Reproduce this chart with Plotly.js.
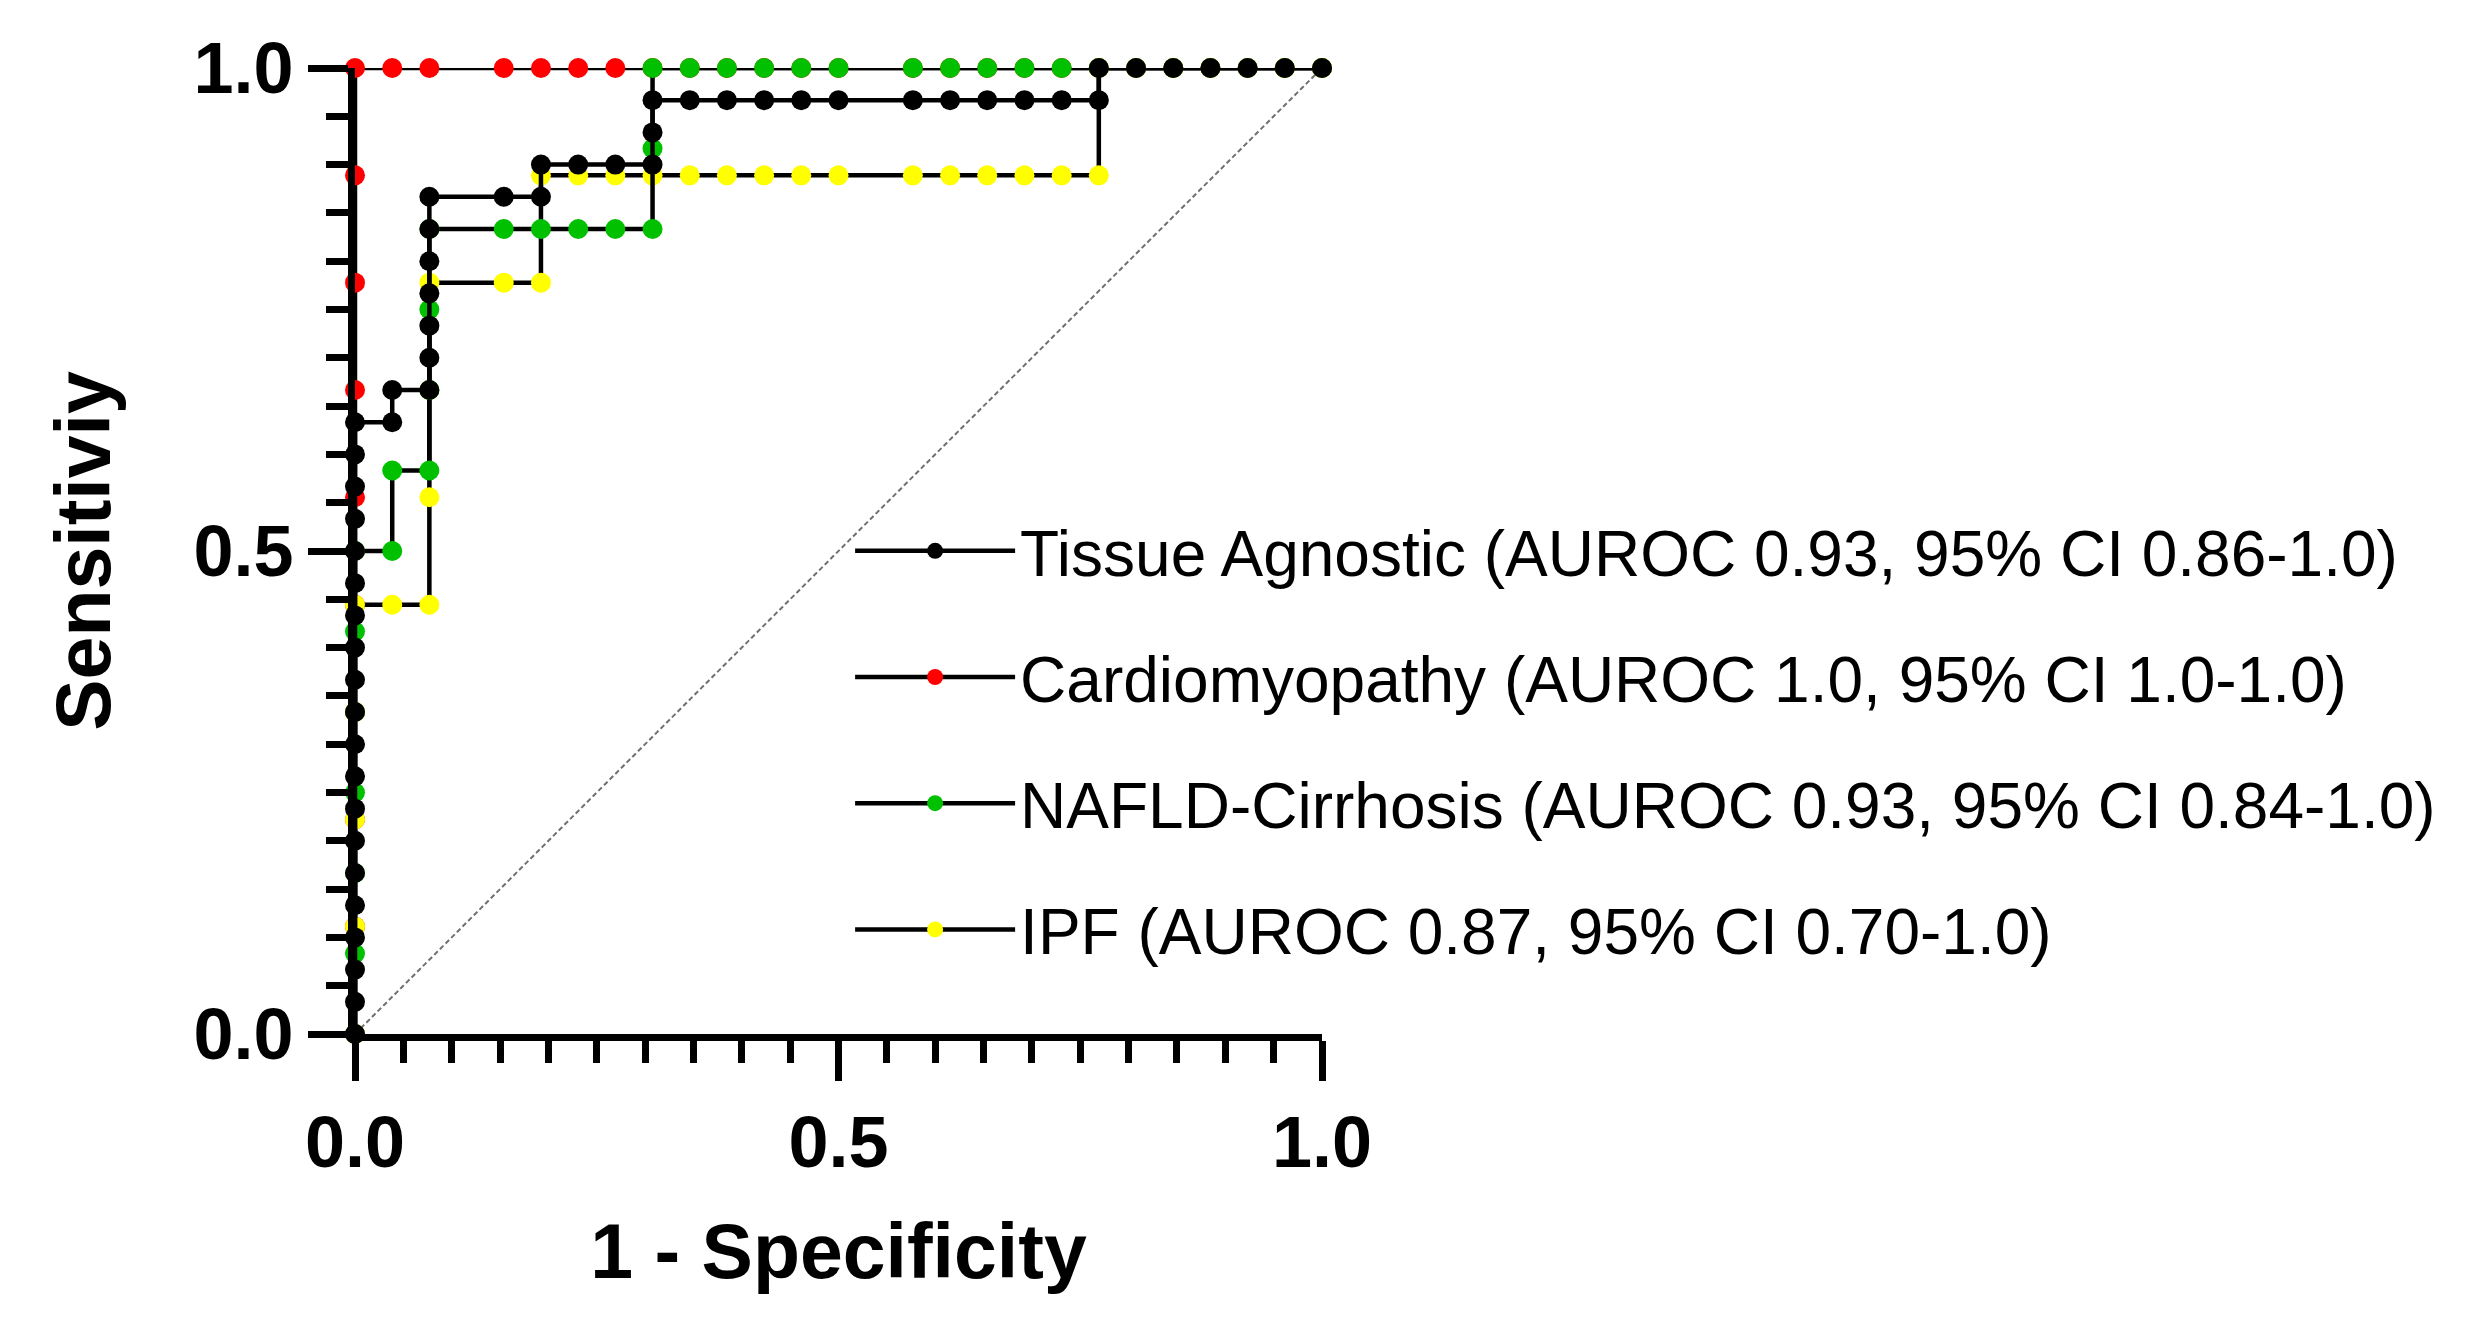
<!DOCTYPE html>
<html>
<head>
<meta charset="utf-8">
<script src="https://cdn.plot.ly/plotly-3.0.1.min.js"></script>
<style>html,body{margin:0;padding:0;background:#fff;}#chart{width:2476px;height:1326px;}</style>
</head>
<body>
<div id="chart"></div>
<script>
// Series names (legend labels)
const seriesNames = [
  "Tissue Agnostic (AUROC 0.93, 95% CI 0.86-1.0)",
  "Cardiomyopathy (AUROC 1.0, 95% CI 1.0-1.0)",
  "NAFLD-Cirrhosis (AUROC 0.93, 95% CI 0.84-1.0)",
  "IPF (AUROC 0.87, 95% CI 0.70-1.0)"
];
const markerColors = ["#000000", "#FF0000", "#00C000", "#FFFF00"];

// Tissue Agnostic: 1 - specificity / sensitivity
const tissueX = [0,0,0,0,0,0,0,0,0,0,0,0,0,0,0,0,0,0,0,0,
  0.0385,0.0385,0.0769,0.0769,0.0769,0.0769,0.0769,0.0769,0.0769,0.1538,0.1923,0.1923,0.2308,0.2692,0.3077,0.3077,0.3077,
  0.3462,0.3846,0.4231,0.4615,0.5,0.5769,0.6154,0.6538,0.6923,0.7308,0.7692,0.7692,0.8077,0.8462,0.8846,0.9231,0.9615,1];
const tissueY = [0,0.0333,0.0667,0.1,0.1333,0.1667,0.2,0.2333,0.2667,0.3,0.3333,0.3667,0.4,0.4333,0.4667,0.5,0.5333,0.5667,0.6,0.6333,
  0.6333,0.6667,0.6667,0.7,0.7333,0.7667,0.8,0.8333,0.8667,0.8667,0.8667,0.9,0.9,0.9,0.9,0.9333,0.9667,
  0.9667,0.9667,0.9667,0.9667,0.9667,0.9667,0.9667,0.9667,0.9667,0.9667,0.9667,1,1,1,1,1,1,1];

// Cardiomyopathy
const cardioX = [0,0,0,0,0,0,0,0,0,0,
  0.0385,0.0769,0.1538,0.1923,0.2308,0.2692,0.3077,0.3462,0.3846,0.4231,0.4615,0.5,0.5769,0.6154,0.6538,0.6923,0.7308,0.7692,0.8077,0.8462,0.8846,0.9231,0.9615,1];
const cardioY = [0,0.1111,0.2222,0.3333,0.4444,0.5556,0.6667,0.7778,0.8889,1,
  1,1,1,1,1,1,1,1,1,1,1,1,1,1,1,1,1,1,1,1,1,1,1,1];

// NAFLD-Cirrhosis
const nafldX = [0,0,0,0,0,0,0,
  0.0385,0.0385,0.0769,0.0769,0.0769,0.0769,0.1538,0.1923,0.2308,0.2692,0.3077,0.3077,0.3077,
  0.3462,0.3846,0.4231,0.4615,0.5,0.5769,0.6154,0.6538,0.6923,0.7308,0.7692,0.8077,0.8462,0.8846,0.9231,0.9615,1];
const nafldY = [0,0.0833,0.1667,0.25,0.3333,0.4167,0.5,
  0.5,0.5833,0.5833,0.6667,0.75,0.8333,0.8333,0.8333,0.8333,0.8333,0.8333,0.9167,1,
  1,1,1,1,1,1,1,1,1,1,1,1,1,1,1,1,1];

// IPF
const ipfX = [0,0,0,0,0,
  0.0385,0.0769,0.0769,0.0769,0.0769,0.1538,0.1923,0.1923,0.2308,0.2692,0.3077,0.3462,0.3846,0.4231,0.4615,0.5,
  0.5769,0.6154,0.6538,0.6923,0.7308,0.7692,0.7692,0.8077,0.8462,0.8846,0.9231,0.9615,1];
const ipfY = [0,0.1111,0.2222,0.3333,0.4444,
  0.4444,0.4444,0.5556,0.6667,0.7778,0.7778,0.7778,0.8889,0.8889,0.8889,0.8889,0.8889,0.8889,0.8889,0.8889,0.8889,
  0.8889,0.8889,0.8889,0.8889,0.8889,0.8889,1,1,1,1,1,1,1];

// Axis tick values and labels
const tickVals = [0, 0.5, 1];
const tickText = ["0.0", "0.5", "1.0"];

function mk(x, y, i, rank) {
  return {
    type: "scatter", mode: "lines+markers", x: x, y: y,
    name: seriesNames[i], legendgroup: "g" + i, legendrank: rank,
    line: {color: "#000000", width: 4.5, shape: "linear"},
    marker: {color: markerColors[i], size: 20, line: {width: 0}},
    cliponaxis: false, hoverinfo: "x+y+name"
  };
}

// draw order: red, yellow, green, black (black on top)
const data = [
  mk(cardioX, cardioY, 1, 2),
  mk(ipfX, ipfY, 3, 4),
  mk(nafldX, nafldY, 2, 3),
  mk(tissueX, tissueY, 0, 1)
];

const axisCommon = {
  range: [0, 1], showgrid: false, zeroline: false,
  showline: true, linecolor: "#000", linewidth: 7,
  ticks: "outside", ticklen: 40, tickwidth: 7, tickcolor: "#000",
  tickvals: tickVals, ticktext: tickText,
  tickfont: {family: "Liberation Sans, Arial, sans-serif", size: 72, color: "#000", weight: "bold"},
  minor: {dtick: 0.05, tick0: 0, ticks: "outside", ticklen: 22, tickwidth: 7, tickcolor: "#000", showgrid: false},
  automargin: false, fixedrange: true
};

const layout = {
  width: 2476, height: 1326,
  paper_bgcolor: "#fff", plot_bgcolor: "#fff",
  margin: {l: 355, r: 1154, t: 68, b: 292},
  showlegend: true,
  xaxis: Object.assign({}, axisCommon, {
    ticklabelstandoff: 0,
    title: {text: "1 - Specificity", standoff: 45,
      font: {family: "Liberation Sans, Arial, sans-serif", size: 77, color: "#000", weight: "bold"}}
  }),
  yaxis: Object.assign({}, axisCommon, {
    ticklabelstandoff: 0,
    title: {text: "Sensitiviy", standoff: 60,
      font: {family: "Liberation Sans, Arial, sans-serif", size: 77, color: "#000", weight: "bold"}}
  }),
  legend: {
    x: 0.512, xanchor: "left", y: 0.55, yanchor: "top",
    bgcolor: "rgba(0,0,0,0)", borderwidth: 0,
    traceorder: "grouped", tracegroupgap: 40,
    itemwidth: 160,
    font: {family: "Liberation Sans, Arial, sans-serif", size: 64, color: "#000"},
    itemsizing: "trace"
  },
  shapes: [{
    type: "line", xref: "x", yref: "y", x0: 0, y0: 0, x1: 1, y1: 1,
    line: {color: "#707070", width: 2, dash: "5px,3px"}, layer: "below"
  }]
};

Plotly.newPlot("chart", data, layout, {displayModeBar: false, staticPlot: true});
</script>
</body>
</html>
